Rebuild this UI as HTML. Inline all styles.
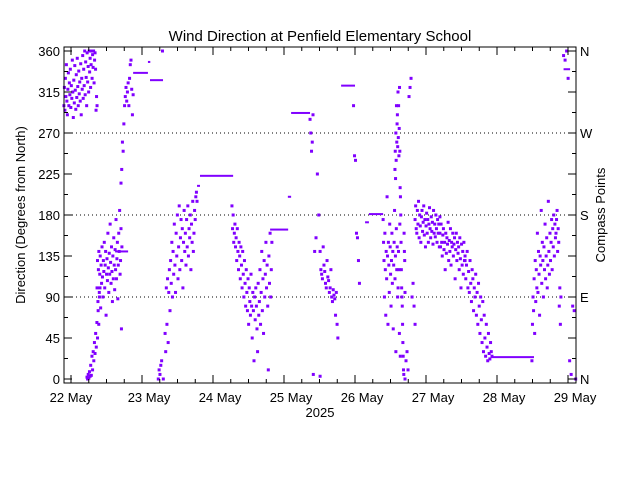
<!DOCTYPE html>
<html><head><meta charset="utf-8"><style>
body{margin:0;background:#fff;}
svg text{font-family:"Liberation Sans",sans-serif;fill:#000;}
</style></head><body>
<svg id="chart" width="640" height="480" viewBox="0 0 640 480" xmlns="http://www.w3.org/2000/svg" style="position:absolute;left:0;top:0">
<rect width="640" height="480" fill="#fff"/>
<text x="320" y="41" font-size="15" text-anchor="middle">Wind Direction at Penfield Elementary School</text>
<g id="grid"></g><g id="marks"></g><g id="axes"></g>
<text x="320" y="417" font-size="13" text-anchor="middle">2025</text>
<text transform="translate(25,215) rotate(-90)" font-size="13" text-anchor="middle">Direction (Degrees from North)</text>
<text transform="translate(605,215) rotate(-90)" font-size="13" text-anchor="middle">Compass Points</text>
</svg>
<script>
// hours since 22 May 00:00; each cluster is [startHour, endHour] sampled uniformly
const dayLabels = ["22 May","23 May","24 May","25 May","26 May","27 May","28 May","29 May"];
const yTicks = [0,45,90,135,180,225,270,315,360];
const compassLabels = ["N","E","S","W","N"];
const clusterSpans = [[-2.4,8.8],[5.4,9.8],[8.8,17.2],[16.9,21],[29.5,31.2],[31.8,42.6],[54.4,67.9],[80.8,81.8],[81.9,84.2],[84.2,90.2],[95.5,97.5],[105.5,111.3],[109.5,112.9],[112.9,116.3],[116.3,124.7],[124.7,133.2],[133.2,142.3],[155.8,165.6],[166.5,170.6]];
const c0=[300,320,295,330,310,345,305,290,318,336,300,325,312,340,298,322,308,350,315,287,328,303,344,317,296,334,309,352,321,300,338,313,326,305,346,290,330,318,355,308,340,322,360,312,348,331,300,358,326,343,315,360,337,352,320,345,360,330,356,342,360,325,350,358,340,295,310,300];
const c1=[2,0,5,1,8,3,15,4,25,10,30,20,40,28,50,35,62,45,75,60,90,100];
const c2=[100,130,85,120,140,95,115,135,78,125,105,145,112,90,130,118,150,100,125,140,70,115,132,108,160,122,95,138,115,170,128,105,145,118,85,135,110,155,125,98,142,120,175,110,132,150,88,125,160,140,185,115,130,165,55,145];
const c3=[215,230,260,250,280,300,310,320,305,315,325,300,330,345,350,318,290,312];
const c4=[0,10,5,15,20,360,0];
const c5=[50,30,100,60,110,40,95,120,75,130,105,150,90,140,115,170,125,95,160,135,180,110,145,190,120,155,175,130,165,100,150,185,140,160,125,175,145,190,135,165,155,180,120,170,150,195,140,160,185,175,200,205,195];
const c6=[190,165,180,150,160,170,145,155,130,165,140,120,150,135,110,145,125,100,140,115,90,130,105,80,120,95,75,110,60,100,85,70,115,80,45,95,75,20,90,65,100,80,55,30,105,70,85,120,60,95,140,75,110,50,130,90,115,150,100,125,80,10,135,105,160,90,120,150];
const c7=[285,270,250,260,290];
const c8=[5,140,155,225,180,3];
const c9=[140,120,115,110,145,125,118,105,100,130,112,108,95,100,120,90,85,98,92,88,70,95,60,45];
const c10=[300,245,240,160,155,130,105];
const c11=[175,150,130,90,160,120,70,140,110,200,135,60,150,125,95,170,145,115,80,130,160,105,140,55,125,150,185,110,135,30,165,120,145,90,100,140,120,50,170,25];
const c12=[230,250,220,270,240,300,260,280,290,255,315,265,300,245,275,320,250,210,200,180,150,120,100,90,80,60,40,25,10,5,160,140,130,95];
const c13=[0,20,30,10,310,320,330,90,105,80,60];
const c14=[175,190,165,160,185,170,195,155,180,168,150,178,185,162,172,190,158,175,145,168,182,160,175,150,170,188,165,155,178,162,172,148,185,160,170,156,180,165,150,175,160,170,145,178];
const c15=[160,145,170,150,135,158,165,142,150,120,160,138,155,148,172,130,152,140,165,125,150,145,160,135,148,155,110,142,160,130,150,138,145,120,155,132,100,148,125,140,115,150,130,135];
const c16=[130,110,125,140,100,118,95,130,105,85,120,110,75,100,90,115,70,95,60,105,80,50,90,65,40,85,30,70,45,25,60,35,20,50,28,22,40,30,25];
const c17=[20,60,90,75,110,50,130,85,120,100,160,95,140,115,70,135,125,185,105,150,130,90,145,120,170,110,135,155,100,125,195,140,115,160,130,150,175,120,165,145,180,135,170,155,160,175,185,140,165,150,80,100,60,90];
const c18=[355,350,360,330,20,5,80,75,0];
const clusters=[c0,c1,c2,c3,c4,c5,c6,c7,c8,c9,c10,c11,c12,c13,c14,c15,c16,c17,c18];
// steady periods: start hour, end hour, direction
const flatStart=[14.9,21,26.7,26,42.6,43.6,67.3,73.3,74.4,91.3,99.4,100.7,142,166.5];
const flatEnd=[19.3,26,31.1,26.8,43.6,54.8,73.4,74.4,80.8,96,100.7,105.5,156.5,168.7];
const flatDir=[140,336,328,348,212,223,164,200,292,322,172,181,24,340];

const X0=64,X1=576,Y0=383,Y1=47,HMIN=-2.37,HMAX=170.7,DMIN=-4.4,DMAX=364.4;
const x=h=>X0+(h-HMIN)/(HMAX-HMIN)*(X1-X0);
const y=d=>Y0-(d-DMIN)/(DMAX-DMIN)*(Y0-Y1);
const NS="http://www.w3.org/2000/svg";
function mk(tag,attrs,parent){const e=document.createElementNS(NS,tag);for(const k in attrs)e.setAttribute(k,attrs[k]);document.getElementById(parent).appendChild(e);return e;}
const col="#8000ff";
clusters.forEach((arr,ci)=>{
  const [s,e]=clusterSpans[ci];const n=arr.length;
  arr.forEach((d,i)=>{
    const h=n>1?s+(e-s)*i/(n-1):s;
    const r=mk("rect",{x:x(h)-1.5,y:y(d)-1.5,width:3,height:3,fill:col},"marks");
    
    
  });
});
flatDir.forEach((d,i)=>{
  const r=mk("rect",{x:x(flatStart[i]),y:y(d)-1,width:x(flatEnd[i])-x(flatStart[i]),height:2,fill:col},"marks");
  
  
});
[90,180,270].forEach(d=>{
  const l=mk("line",{x1:X0,x2:X1,y1:y(d),y2:y(d),stroke:"#000","stroke-width":1,"stroke-dasharray":"1,3"},"grid");
  
  
});
const fr=mk("rect",{x:X0,y:Y1,width:X1-X0,height:Y0-Y1,fill:"none",stroke:"#000","stroke-width":1},"axes");


for(let d=0;d<=360;d+=22.5){
  const len=(d%45===0)?8:4;
  mk("line",{x1:X0,x2:X0+len,y1:y(d),y2:y(d),stroke:"#000"},"axes");
  mk("line",{x1:X1,x2:X1-len,y1:y(d),y2:y(d),stroke:"#000"},"axes");
}
yTicks.forEach(d=>{
  const t=mk("text",{x:60,y:y(d)+5,"font-size":13,"text-anchor":"end"},"axes");t.textContent=d;
  
  
});
compassLabels.forEach((c,i)=>{
  const t=mk("text",{x:580,y:y(i*90)+5,"font-size":13},"axes");t.textContent=c;
  
  
});
for(let h=0;h<=HMAX;h+=6){
  const len=(h%24===0)?8:4;
  mk("line",{x1:x(h),x2:x(h),y1:Y0,y2:Y0-len,stroke:"#000"},"axes");
  mk("line",{x1:x(h),x2:x(h),y1:Y1,y2:Y1+len,stroke:"#000"},"axes");
}
dayLabels.forEach((lab,i)=>{
  const h=i===0?HMIN:i*24;
  const t=mk("text",{x:x(h)+7,y:402,"font-size":13,"text-anchor":"middle"},"axes");t.textContent=lab;
  
  
});
</script>
</body></html>
